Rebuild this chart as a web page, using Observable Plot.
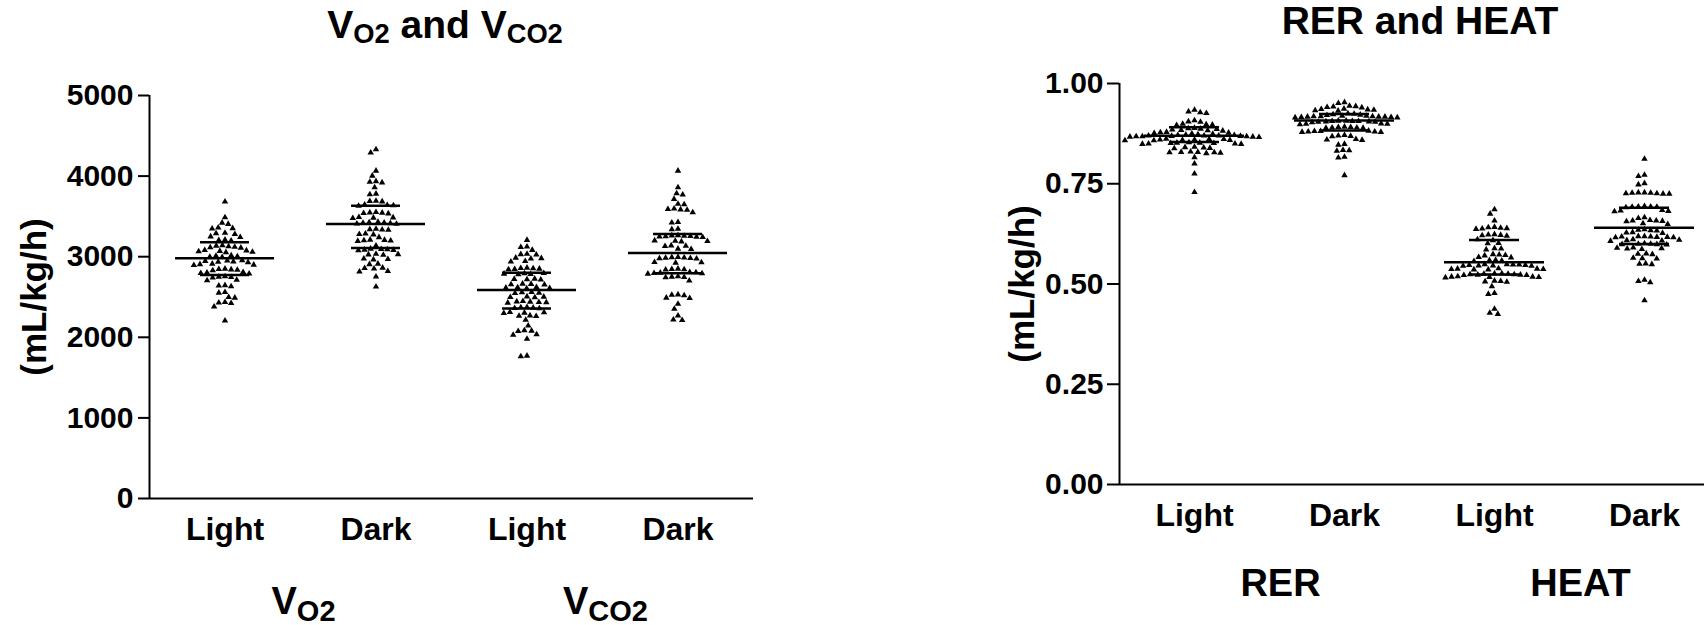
<!DOCTYPE html>
<html>
<head>
<meta charset="utf-8">
<script src="https://cdn.jsdelivr.net/npm/d3@7"></script>
<script src="https://cdn.jsdelivr.net/npm/@observablehq/plot@0.6"></script>
<style>
html, body { margin: 0; padding: 0; background: #fff; overflow: hidden; width: 1704px; height: 625px; }
body { position: relative; font-family: "Liberation Sans", Arial, sans-serif; font-weight: bold; color: #000; }
.panel { position: absolute; top: 55px; z-index: 1; }
.panel svg { max-width: none !important; display: block; }
.title { position: absolute; z-index: 2; white-space: nowrap; font-size: 39px; line-height: 1; transform: translateX(-50%); }
.title sub { font-size: 0.7em; vertical-align: baseline; position: relative; top: 0.17em; }
.ylab { position: absolute; z-index: 2; white-space: nowrap; font-size: 35px; line-height: 1; transform: translate(-50%, -50%) rotate(-90deg); }
svg text { font-family: "Liberation Sans", Arial, sans-serif; font-weight: bold; }
</style>
</head>
<body>
<div class="title" style="left:445px; top:5px;">V<sub>O2</sub> and V<sub>CO2</sub></div>
<div class="title" style="left:1420px; top:1px;">RER and HEAT</div>
<div class="ylab" style="left:33px; top:297px;">(mL/kg/h)</div>
<div class="ylab" style="left:1021px; top:284px;">(mL/kg/h)</div>
<div id="left" class="panel" style="left:0px; width:780px;"></div>
<div id="right" class="panel" style="left:980px; width:740px;"></div>
<script>
// ---------- data ----------
const conditions = ["Light", "Dark"];
const leftGroups = ["VO2", "VCO2"];
const rightGroups = ["RER", "HEAT"];
const leftTicks = [0, 1000, 2000, 3000, 4000, 5000];
const rightTicks = [0, 0.25, 0.5, 0.75, 1.0];

const vo2Light = [3682, 3488, 3420, 3405, 3360, 3352, 3348, 3295, 3288, 3280, 3250, 3242, 3210, 3205, 3198,
  3140, 3135, 3128, 3122, 3115, 3110, 3080, 3076, 3070, 3066, 3060, 3055, 3015, 3010, 3004, 2998, 2994,
  2955, 2950, 2946, 2940, 2935, 2930, 2912, 2906, 2900, 2895, 2850, 2846, 2840, 2836, 2830,
  2808, 2802, 2796, 2790, 2755, 2750, 2746, 2740, 2712, 2706, 2645, 2640, 2632, 2560, 2552,
  2498, 2490, 2436, 2430, 2424, 2380, 2207];
const vo2Dark = [4330, 4290, 4066, 4004, 3935, 3928, 3920, 3860, 3780, 3772, 3692, 3688, 3684,
  3645, 3640, 3636, 3630, 3552, 3548, 3544, 3540, 3535, 3490, 3486, 3482, 3478,
  3430, 3426, 3422, 3418, 3414, 3410, 3406, 3345, 3340, 3336, 3332, 3285, 3280, 3275, 3240,
  3210, 3206, 3202, 3198, 3194, 3137, 3098, 3094, 3090, 3086, 3082, 3078, 3035, 3030, 3026, 3022,
  2975, 2970, 2965, 2912, 2906, 2862, 2858, 2852, 2820, 2815, 2752, 2628];
const vco2Light = [3207, 3124, 3118, 3083, 3035, 3030, 3025, 2986, 2980, 2975, 2944, 2938,
  2862, 2858, 2854, 2850, 2846, 2842, 2796, 2792, 2788, 2784, 2780, 2726, 2722, 2718, 2714,
  2664, 2660, 2656, 2652, 2622, 2618, 2614, 2610, 2606, 2560, 2556, 2552, 2548, 2506, 2502, 2498, 2494,
  2448, 2444, 2440, 2436, 2432, 2428, 2374, 2370, 2366, 2362, 2358, 2312, 2308, 2304, 2300,
  2270, 2266, 2262, 2215, 2145, 2085, 2080, 2075, 2035, 2030, 1980, 1770, 1762];
const vco2Dark = [4066, 3860, 3785, 3770, 3715, 3655, 3648, 3595, 3590, 3585, 3580, 3549, 3428, 3422, 3345, 3340,
  3265, 3262, 3258, 3255, 3252, 3248, 3245, 3242, 3200, 3196, 3192, 3188, 3138, 3134, 3130, 3098, 3094,
  2995, 2992, 2988, 2985, 2982, 2978, 2975, 2932, 2928, 2924, 2850, 2846, 2842, 2838,
  2808, 2804, 2800, 2796, 2792, 2788, 2755, 2750, 2746, 2742, 2703, 2530, 2526, 2520, 2490, 2485,
  2414, 2352, 2269, 2218, 2212];
const leftCenter = [2980, 3405, 2587, 3046];
const leftLow = [2773, 3108, 2356, 2794];
const leftHigh = [3178, 3632, 2802, 3281];

const rerLight = [0.934, 0.930, 0.928, 0.926, 0.908, 0.905, 0.904, 0.899, 0.898, 0.897, 0.896,
  0.889, 0.888, 0.887, 0.886, 0.885, 0.884, 0.883, 0.882, 0.879, 0.878, 0.877, 0.876, 0.875, 0.874, 0.873,
  0.872, 0.871, 0.871, 0.870, 0.870, 0.870, 0.869, 0.869, 0.868, 0.868, 0.868, 0.867, 0.867, 0.866,
  0.862, 0.861, 0.861, 0.860, 0.860, 0.859, 0.859, 0.858, 0.858,
  0.853, 0.852, 0.852, 0.851, 0.851, 0.850, 0.850, 0.849, 0.849,
  0.842, 0.841, 0.840, 0.839, 0.838, 0.830, 0.829, 0.829, 0.828, 0.828, 0.827, 0.826,
  0.816, 0.800, 0.775, 0.729];
const rerDark = [0.953, 0.951, 0.944, 0.943, 0.942, 0.941, 0.940, 0.937, 0.936, 0.935, 0.934, 0.933, 0.932,
  0.925, 0.924, 0.923, 0.922, 0.921,
  0.919, 0.919, 0.918, 0.918, 0.918, 0.917, 0.917, 0.917, 0.916, 0.916, 0.915, 0.915,
  0.907, 0.907, 0.906, 0.906, 0.906, 0.905, 0.905, 0.904, 0.904, 0.903,
  0.900, 0.899, 0.899, 0.898, 0.892, 0.891, 0.891, 0.890, 0.890, 0.889, 0.889,
  0.882, 0.881, 0.881, 0.880, 0.880, 0.879, 0.879, 0.871, 0.870, 0.869, 0.868,
  0.861, 0.860, 0.859, 0.849, 0.847, 0.834, 0.833, 0.832, 0.817, 0.815, 0.771];
const heatLight = [0.686, 0.675, 0.658, 0.642, 0.641, 0.640, 0.639, 0.638, 0.637,
  0.624, 0.623, 0.622, 0.621, 0.620, 0.611, 0.609, 0.602, 0.601, 0.589, 0.588, 0.586,
  0.574, 0.573, 0.572, 0.571, 0.567, 0.566, 0.560, 0.559, 0.558, 0.557,
  0.549, 0.549, 0.548, 0.548, 0.547, 0.547, 0.546, 0.546, 0.545, 0.545,
  0.539, 0.538, 0.538, 0.537, 0.537, 0.536, 0.536,
  0.526, 0.526, 0.525, 0.525, 0.524, 0.524, 0.523, 0.523, 0.522, 0.522,
  0.519, 0.518, 0.518, 0.517, 0.517, 0.516, 0.508, 0.507, 0.506, 0.505,
  0.494, 0.477, 0.475, 0.438, 0.428, 0.425];
const heatDark = [0.812, 0.772, 0.769, 0.751, 0.748,
  0.728, 0.728, 0.727, 0.727, 0.726, 0.726, 0.725, 0.725,
  0.694, 0.693, 0.693, 0.692, 0.692, 0.691, 0.684, 0.683, 0.682, 0.681,
  0.666, 0.664, 0.659, 0.658, 0.658, 0.657, 0.656, 0.651, 0.649,
  0.636, 0.635, 0.634, 0.633, 0.629, 0.628, 0.627,
  0.619, 0.619, 0.618, 0.618, 0.617, 0.617, 0.616, 0.616,
  0.611, 0.610, 0.609, 0.608, 0.607, 0.601, 0.600, 0.600, 0.599, 0.599, 0.598,
  0.591, 0.590, 0.589, 0.588, 0.587, 0.576, 0.575, 0.574, 0.565, 0.564, 0.563,
  0.551, 0.550, 0.549, 0.510, 0.507, 0.504, 0.459];
const rightCenter = [0.870, 0.908, 0.554, 0.640];
const rightLow = [0.854, 0.883, 0.524, 0.600];
const rightHigh = [0.891, 0.924, 0.610, 0.690];

// ---------- build tables ----------
function tables(groups, series, center, low, high) {
  const cats = groups.flatMap(g => conditions.map(c => g + "|" + c));
  const points = series.flatMap((vals, i) => vals.map(v => ({cat: cats[i], value: v})));
  const stats = cats.map((c, i) => ({cat: c, center: center[i], lo: low[i], hi: high[i]}));
  const glabels = groups.map((g, i) => ({cat: cats[i * conditions.length], label: g}));
  return {cats, points, stats, glabels};
}

function panel(t, o) {
  const font = {fontFamily: '"Liberation Sans", Arial, sans-serif', fontWeight: "bold", background: "transparent", maxWidth: "none"};
  return Plot.plot({
    width: o.width, height: 570,
    marginLeft: o.marginLeft, marginRight: o.marginRight, marginTop: o.marginTop, marginBottom: o.marginBottom,
    style: font,
    fx: {domain: t.cats, padding: 0, axis: null},
    x: {domain: [0, 1], axis: null},
    y: {domain: o.yDomain, axis: null},
    marks: [
      Plot.ruleY([o.yDomain[0]], {stroke: "#000", strokeWidth: 2}),
      Plot.ruleX([t.cats[0]], {fx: d => d, x: () => 0, y1: o.yDomain[0], y2: o.yDomain[1], stroke: "#000", strokeWidth: 2}),
      Plot.axisY({ticks: o.ticks, tickFormat: o.tickFormat, tickSize: o.tickSize, tickPadding: o.tickPadding,
        fontSize: 30, strokeWidth: 2, label: null}),
      Plot.axisFx({anchor: "bottom", tickSize: 0, tickPadding: 19, fontSize: 32, label: null,
        tickFormat: d => d.split("|")[1]}),
      Plot.dot(t.points, Plot.dodgeX({anchor: "middle", padding: 1.4},
        {fx: "cat", y: "value", r: 2.4, symbol: "triangle", fill: "#000"})),
      Plot.ruleY(t.stats, {fx: "cat", y: "center", insetLeft: o.meanInset, insetRight: o.meanInset, stroke: "#000", strokeWidth: 2.5}),
      Plot.ruleY(t.stats, {fx: "cat", y: "lo", insetLeft: o.barInset, insetRight: o.barInset, stroke: "#000", strokeWidth: 2.5}),
      Plot.ruleY(t.stats, {fx: "cat", y: "hi", insetLeft: o.barInset, insetRight: o.barInset, stroke: "#000", strokeWidth: 2.5}),
      Plot.ruleX(t.stats, {fx: "cat", y1: "lo", y2: "hi", stroke: "#000", strokeWidth: 2.5}),
      Plot.text(t.glabels, {fx: "cat", text: "label", frameAnchor: "bottom-right", textAnchor: "middle",
        dx: o.groupDx, dy: o.groupDy, fontSize: 38, fill: "#000"})
    ]
  });
}

function subscript(svg, labels) {
  d3.select(svg).selectAll("text").each(function () {
    const s = this.textContent;
    if (labels.includes(s) && s.length > 1 && s[0] === "V") {
      const sel = d3.select(this);
      sel.text(null);
      sel.append("tspan").text(s[0]);
      sel.append("tspan").attr("font-size", 29).attr("dy", 7).text(s.slice(1));
    }
  });
}

const L = tables(leftGroups, [vo2Light, vo2Dark, vco2Light, vco2Dark], leftCenter, leftLow, leftHigh);
const R = tables(rightGroups, [rerLight, rerDark, heatLight, heatDark], rightCenter, rightLow, rightHigh);

const leftSvg = panel(L, {width: 780, marginLeft: 149, marginRight: 27, marginTop: 40, marginBottom: 127,
  yDomain: [0, 5000], ticks: leftTicks, tickFormat: d3.format("d"), tickSize: 11, tickPadding: 5,
  meanInset: 26, barInset: 51, groupDx: 3, groupDy: 115});
subscript(leftSvg, leftGroups);
document.getElementById("left").appendChild(leftSvg);

const rightSvg = panel(R, {width: 740, marginLeft: 139, marginRight: 1, marginTop: 28, marginBottom: 141,
  yDomain: [0, 1], ticks: rightTicks, tickFormat: d3.format(".2f"), tickSize: 12, tickPadding: 4,
  meanInset: 25, barInset: 50, groupDx: 11, groupDy: 111});
document.getElementById("right").appendChild(rightSvg);
</script>
</body>
</html>
